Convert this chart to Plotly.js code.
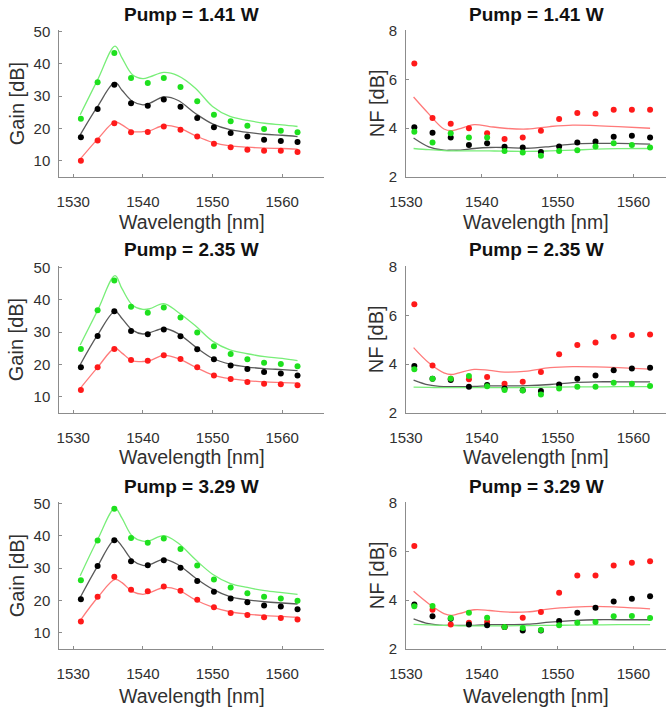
<!DOCTYPE html>
<html>
<head>
<meta charset="utf-8">
<script src="https://cdn.plot.ly/plotly-3.0.1.min.js"></script>
<style>html,body{margin:0;padding:0;background:#fff;}#chart{width:666px;height:710px;}</style>
</head>
<body>
<div id="chart"></div>
<script>
// ---------- DATA ----------
const pumpLabels = ["Pump = 1.41 W", "Pump = 2.35 W", "Pump = 3.29 W"];
const wlPoints = [1531.1, 1533.5, 1535.9, 1538.3, 1540.7, 1543.0, 1545.4, 1547.8, 1550.2, 1552.6, 1555.0, 1557.4, 1559.8, 1562.2];
const wlGainFit = [1531, 1533.5, 1536, 1537, 1538.5, 1540, 1541, 1543, 1545, 1547.5, 1550, 1552.5, 1555, 1557.5, 1560, 1562.2];
const wlNfFit = [1531, 1533, 1535, 1536, 1537, 1539, 1541, 1543, 1546, 1549, 1552, 1555, 1558, 1562.2];

// Gain measured points [dB]
const gain141Green = [23.0, 34.3, 43.3, 35.6, 34.0, 35.6, 32.8, 28.4, 24.2, 22.2, 20.8, 19.8, 19.3, 18.8];
const gain141Black = [17.3, 26.0, 33.5, 27.8, 27.0, 28.9, 26.7, 23.2, 20.4, 18.6, 17.5, 16.5, 16.1, 15.8];
const gain141Red   = [10.0, 16.3, 21.6, 18.8, 18.9, 20.6, 19.6, 17.5, 15.3, 14.2, 13.4, 13.1, 13.1, 12.7];
const gain235Green = [24.8, 36.7, 45.9, 37.8, 36.0, 37.6, 34.5, 29.9, 25.6, 23.2, 21.6, 20.5, 20.1, 19.4];
const gain235Black = [19.1, 28.8, 36.4, 30.3, 29.3, 30.8, 28.7, 24.7, 21.6, 19.7, 18.6, 17.7, 17.2, 16.6];
const gain235Red   = [12.1, 19.1, 24.8, 21.4, 21.1, 22.8, 21.7, 19.1, 16.6, 15.5, 14.6, 14.0, 13.9, 13.6];
const gain329Green = [26.2, 38.5, 48.3, 39.3, 37.8, 39.1, 35.9, 30.8, 26.5, 24.0, 22.2, 21.1, 20.6, 19.9];
const gain329Black = [20.4, 30.6, 38.6, 32.1, 30.9, 32.4, 30.1, 26.0, 22.7, 20.6, 19.4, 18.4, 18.1, 17.3];
const gain329Red   = [13.5, 21.1, 27.3, 23.3, 22.8, 24.3, 23.0, 20.2, 17.9, 16.1, 15.5, 14.8, 14.6, 14.1];

// Gain simulated curves [dB]
const gainFit141Green = [24.2, 35.0, 45.4, 41.8, 36.6, 35.4, 35.9, 37.3, 36.3, 32.5, 26.8, 23.7, 22.5, 21.6, 21.1, 20.6];
const gainFit141Black = [18.0, 26.8, 34.2, 31.8, 28.4, 27.3, 27.8, 29.7, 28.7, 24.7, 21.4, 19.6, 18.8, 18.2, 17.9, 17.5];
const gainFit141Red   = [10.5, 16.7, 22.0, 21.1, 19.1, 19.0, 19.3, 20.9, 20.3, 17.8, 15.7, 14.6, 14.2, 13.9, 13.8, 13.6];
const gainFit235Green = [26.0, 36.7, 47.4, 43.4, 38.3, 37.0, 37.2, 38.8, 36.2, 32.0, 27.2, 24.5, 23.3, 22.4, 21.9, 21.2];
const gainFit235Black = [19.9, 29.1, 36.4, 34.2, 30.6, 29.4, 29.8, 31.1, 29.6, 25.5, 21.9, 20.1, 19.2, 18.7, 18.4, 18.1];
const gainFit235Red   = [12.6, 19.1, 25.0, 23.5, 21.1, 20.9, 21.2, 22.8, 21.9, 19.2, 16.8, 15.6, 15.0, 14.6, 14.4, 14.2];
const gainFit329Green = [27.6, 38.8, 48.5, 45.4, 39.8, 38.3, 38.5, 40.0, 37.8, 32.7, 28.1, 25.3, 24.0, 23.0, 22.4, 21.9];
const gainFit329Black = [20.9, 30.6, 38.8, 36.7, 32.4, 30.8, 31.1, 32.7, 31.1, 27.0, 23.5, 21.2, 20.2, 19.6, 19.2, 18.9];
const gainFit329Red   = [13.8, 20.9, 26.5, 25.5, 22.7, 21.9, 22.4, 24.0, 23.3, 20.2, 17.9, 16.5, 15.8, 15.3, 15.1, 14.8];

// NF measured points [dB]
const nf141Red   = [6.66, 4.42, 4.18, 4.00, 3.79, 3.56, 3.62, 3.90, 4.38, 4.63, 4.59, 4.76, 4.76, 4.76];
const nf141Black = [4.04, 3.82, 3.62, 3.31, 3.38, 3.24, 3.21, 3.03, 3.25, 3.42, 3.46, 3.65, 3.69, 3.62];
const nf141Green = [3.86, 3.42, 3.79, 3.62, 3.62, 3.07, 3.00, 2.87, 3.07, 3.10, 3.25, 3.38, 3.31, 3.21];
const nf235Red   = [6.46, 3.95, 3.41, 3.38, 3.48, 3.20, 3.28, 3.68, 4.41, 4.79, 4.89, 5.13, 5.20, 5.22];
const nf235Black = [3.93, 3.41, 3.35, 3.08, 3.15, 3.00, 2.93, 2.90, 3.17, 3.41, 3.54, 3.75, 3.83, 3.86];
const nf235Green = [3.79, 3.41, 3.41, 3.52, 3.10, 2.94, 2.92, 2.76, 3.00, 3.08, 3.08, 3.24, 3.20, 3.11];
const nf329Red   = [6.23, 3.61, 3.01, 3.08, 3.11, 2.90, 3.28, 3.52, 4.31, 5.02, 5.02, 5.43, 5.54, 5.60];
const nf329Black = [3.83, 3.34, 3.24, 3.00, 2.97, 2.90, 2.76, 2.76, 3.15, 3.49, 3.69, 3.95, 4.06, 4.16];
const nf329Green = [3.75, 3.76, 3.27, 3.49, 3.28, 2.90, 2.86, 2.78, 2.97, 3.08, 3.11, 3.34, 3.35, 3.27];

// NF simulated curves [dB]
const nfFit141Red   = [5.28, 4.59, 3.97, 3.90, 3.97, 4.15, 4.07, 4.00, 3.97, 4.07, 4.13, 4.11, 4.07, 4.00];
const nfFit141Black = [3.60, 3.24, 3.10, 3.10, 3.10, 3.17, 3.21, 3.21, 3.18, 3.25, 3.35, 3.38, 3.38, 3.35];
const nfFit141Green = [3.17, 3.12, 3.08, 3.07, 3.07, 3.07, 3.07, 3.06, 3.05, 3.07, 3.10, 3.14, 3.16, 3.17];
const nfFit235Red   = [4.68, 4.06, 3.65, 3.58, 3.65, 3.79, 3.75, 3.68, 3.72, 3.86, 3.90, 3.89, 3.86, 3.80];
const nfFit235Black = [3.35, 3.15, 3.08, 3.08, 3.08, 3.09, 3.11, 3.11, 3.12, 3.17, 3.25, 3.28, 3.28, 3.28];
const nfFit235Green = [3.06, 3.05, 3.04, 3.04, 3.04, 3.04, 3.04, 3.04, 3.05, 3.06, 3.07, 3.07, 3.08, 3.08];
const nfFit329Red   = [4.37, 3.86, 3.45, 3.38, 3.45, 3.61, 3.58, 3.52, 3.52, 3.65, 3.72, 3.75, 3.72, 3.65];
const nfFit329Black = [3.24, 3.04, 2.97, 2.97, 2.97, 2.97, 3.00, 3.00, 3.02, 3.10, 3.16, 3.20, 3.20, 3.20];
const nfFit329Green = [3.01, 2.99, 2.97, 2.96, 2.95, 2.95, 2.95, 2.95, 2.96, 2.97, 2.98, 2.99, 3.00, 3.00];

const gainTicks = [10, 20, 30, 40, 50];
const nfTicks = [2, 4, 6, 8];
const wlTicks = [1530, 1540, 1550, 1560];

// ---------- STYLE ----------
const W = 666, H = 710;
const FONT = "Arial, 'Liberation Sans', Helvetica, sans-serif";
const ptColor = {green: "#1ee01e", black: "#000000", red: "#ff1a1a"};
const lnColor = {green: "#78ee78", black: "#5a5a5a", red: "#ff7a7a"};
const rowsPx = [[30, 177], [266, 413], [502, 649]];
const xTitleY = [221.7, 456.7, 696];
const titleY = [15, 250, 486.7];
const gainXpx = [59.3, 324];
const nfXpx = [406, 666];

const panels = [
  {fit: [gainFit141Green, gainFit141Black, gainFit141Red], pts: [gain141Green, gain141Black, gain141Red]},
  {fit: [nfFit141Red, nfFit141Black, nfFit141Green], pts: [nf141Red, nf141Black, nf141Green], nf: true},
  {fit: [gainFit235Green, gainFit235Black, gainFit235Red], pts: [gain235Green, gain235Black, gain235Red]},
  {fit: [nfFit235Red, nfFit235Black, nfFit235Green], pts: [nf235Red, nf235Black, nf235Green], nf: true},
  {fit: [gainFit329Green, gainFit329Black, gainFit329Red], pts: [gain329Green, gain329Black, gain329Red]},
  {fit: [nfFit329Red, nfFit329Black, nfFit329Green], pts: [nf329Red, nf329Black, nf329Green], nf: true}
];

const traces = [];
const layout = {
  width: W, height: H, margin: {l: 0, r: 0, t: 0, b: 0},
  paper_bgcolor: "#ffffff", plot_bgcolor: "#ffffff",
  showlegend: false, font: {family: FONT, color: "#262626"},
  annotations: []
};

panels.forEach((p, i) => {
  const n = i + 1;
  const row = Math.floor(i / 2);
  const isNf = !!p.nf;
  const xa = n === 1 ? "x" : "x" + n;
  const ya = n === 1 ? "y" : "y" + n;
  const colors = isNf ? ["red", "black", "green"] : ["green", "black", "red"];
  const fitX = isNf ? wlNfFit : wlGainFit;
  p.fit.forEach((vals, k) => {
    traces.push({x: fitX, y: vals, xaxis: xa, yaxis: ya, type: "scatter", mode: "lines",
      line: {color: lnColor[colors[k]], width: 1.3, shape: "spline", smoothing: 1}, hoverinfo: "skip"});
  });
  p.pts.forEach((vals, k) => {
    traces.push({x: wlPoints, y: vals, xaxis: xa, yaxis: ya, type: "scatter", mode: "markers",
      marker: {color: ptColor[colors[k]], size: 6}, hoverinfo: "skip"});
  });
  const xpx = isNf ? nfXpx : gainXpx;
  const ypx = rowsPx[row];
  const common = {showgrid: false, zeroline: false, showline: true, linecolor: "#8c8c8c", linewidth: 1,
    ticks: "inside", ticklen: 3, tickcolor: "#8c8c8c", mirror: false, fixedrange: true,
    tickfont: {family: FONT, size: 15, color: "#303030"}};
  layout["xaxis" + (n === 1 ? "" : n)] = Object.assign({}, common, {
    domain: [xpx[0] / W, xpx[1] / W], anchor: ya,
    range: isNf ? [1530, 1564.3] : [1528, 1566],
    tickvals: wlTicks, ticklabelstandoff: 11
  });
  layout["yaxis" + (n === 1 ? "" : n)] = Object.assign({}, common, {
    domain: [1 - ypx[1] / H, 1 - ypx[0] / H], anchor: xa,
    range: isNf ? [2, 8.03] : [5, 50.4],
    tickvals: isNf ? nfTicks : gainTicks, ticklabelstandoff: 5
  });
  const cx = (xpx[0] + xpx[1]) / 2 / W;
  layout.annotations.push({text: "<b>" + pumpLabels[row] + "</b>", xref: "paper", yref: "paper",
    x: cx, y: 1 - titleY[row] / H, xanchor: "center", yanchor: "middle", showarrow: false,
    font: {family: FONT, size: 19, color: "#111111"}});
  layout.annotations.push({text: "Wavelength [nm]", xref: "paper", yref: "paper",
    x: cx, y: 1 - xTitleY[row] / H, xanchor: "center", yanchor: "middle", showarrow: false,
    font: {family: FONT, size: 19.5, color: "#303030"}});
  layout.annotations.push({text: isNf ? "NF [dB]" : "Gain [dB]", xref: "paper", yref: "paper",
    x: (isNf ? 376.7 : 16.7) / W, y: 1 - (ypx[0] + ypx[1]) / 2 / H, xanchor: "center", yanchor: "middle",
    textangle: -90, showarrow: false, font: {family: FONT, size: 20, color: "#303030"}});
});

Plotly.newPlot("chart", traces, layout, {staticPlot: true, displayModeBar: false});
</script>
</body>
</html>
